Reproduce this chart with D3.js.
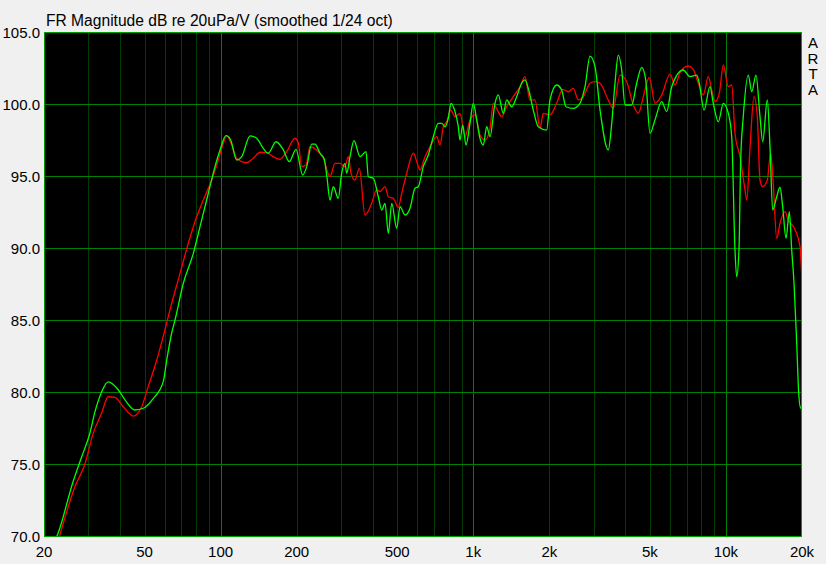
<!DOCTYPE html>
<meta charset="utf-8">
<style>
    body { margin: 0; background: #f0f0f0; }
    text { font-family: "Liberation Sans", Arial, sans-serif; font-size: 15px; fill: #000; }
    .title { font-size: 15.6px; }
    .grid line { shape-rendering: crispEdges; }
    .trace { fill: none; stroke-width: 1.3px; }
</style>
<svg id="chart" width="826" height="564"></svg>
<script src="https://d3js.org/d3.v7.min.js"></script>
<script>

    var greenFreq = [22.0, 22.6, 26.1, 28.2, 30.4, 31.8, 33.8, 35.9, 39.4, 41.9, 45.8, 49.4, 54.2, 59.3, 61.2, 64.0,
        66.0, 71.2, 78.0, 82.9, 89.4, 95.0, 99.5, 105, 109.6, 115.8, 121.2, 130.8, 138.9, 147.5, 154.4, 165.7,
        177.1, 187, 198.8, 211.2, 219.2, 229.4, 236.4, 247.4, 256.6, 263, 271, 279.2, 292.2, 301.4, 310.7,
        315.5, 325.2, 337.2, 356.2, 376.3, 384.2, 402.2, 420.8, 434.2, 447.4, 461.2, 475.7, 497.8, 512.9,
        536.9, 561.9, 588, 606, 634.2, 663.8, 694.8, 727, 750, 772.8, 796.4, 816.4, 846.6, 872.6, 886.2,
        908.2, 936, 970.6, 1000, 1032, 1063, 1096, 1130, 1165, 1219, 1256, 1315, 1356, 1419, 1485, 1555,
        1602, 1651, 1728, 1809, 1952, 2012, 2138, 2238, 2328, 2488, 2644, 2768, 2898, 3033, 3175, 3422,
        3532, 3638, 3750, 3868, 3986, 4236, 4434, 4642, 4814, 5004, 5238, 5568, 5828, 6102, 6778, 7206,
        7660, 7844, 8188, 8648, 8912, 9328, 9764, 10220, 10540, 10860, 11030, 11260, 11440, 11710, 12260,
        12650, 13150, 13640, 13980, 14580, 14940, 15310, 15880, 16370, 16770, 17290, 17820, 18210, 18600,
        19060, 19410, 19760, 20000];
    var greenDb = [69.6, 70.07, 73.8, 75.5, 77.15, 78.6, 80.0, 80.7, 80.14, 79.44, 78.75, 78.87, 79.56, 80.72, 82.22, 84.08,
        85.0, 87.55, 89.63, 91.48, 93.8, 95.65, 96.81, 97.8, 97.5, 96.11, 96.34, 97.78, 97.62, 96.92, 96.58, 97.38,
        96.81, 96.0, 96.85, 95.07, 95.65, 97.22, 97.22, 96.58, 96.23, 95.07, 93.33, 94.26, 93.45, 95.19, 95.88,
        95.19, 96.34, 97.45, 96.34, 96.69, 94.95, 94.84, 93.56, 92.64, 93.1, 91.02, 93.1, 91.37, 92.87,
        92.29, 92.76, 94.15, 94.26, 95.65, 96.46, 97.73, 98.66, 98.66, 98.42, 99.01, 100.05, 99.47, 98.42, 97.5,
        98.54, 97.15, 98.66, 100.05, 98.89, 97.62, 97.15, 98.42, 97.73, 100.05, 100.63, 99.35, 100.28, 99.81, 100.51, 101.44,
        101.67, 101.09, 99.58, 98.42, 98.19, 100.28, 101.32, 100.97, 99.81, 99.7, 100.05, 101.2, 103.33, 102.59, 99.58, 96.81,
        98.66, 101.44, 103.4, 102.36, 99.93, 99.93, 101.44, 102.55, 101.67, 97.97, 98.89, 100.16, 99.47, 101.2, 102.36, 101.9,
        102.01, 101.44, 99.58, 101.2, 100.05, 98.77, 100.05, 99.35, 97.73, 89.86, 88.0, 89.86, 96.11, 99.12, 102.01,
        100.85, 102.01, 99.12, 97.38, 100.28, 97.03, 92.64, 93.56, 94.22, 92.87, 90.67, 92.52, 89.86, 87.55,
        83.38, 79.91, 78.87, 79.24];

    var redFreq = [22.6, 23.1, 26.5, 29.1, 31.3, 33.8, 35.9, 38.2, 41.2, 45.1, 48.7, 51.7, 55.9, 60.2,
        63.0, 69.1, 74.5, 80.4, 85.4, 92.2, 97.9, 102.5, 105.7, 110.7, 115.8, 126.9, 134.7, 143.2, 152.2, 161.6, 171.8,
        182.6, 197, 203, 209.4, 217.8, 225.8, 240, 255, 271, 283.6, 296.8, 310.7, 320.2, 328.2, 340.4, 354,
        372.8, 396.2, 414.6, 427.4, 447.4, 461.2, 482.4, 505, 521, 545.2, 579, 600.4, 615.4, 644.2, 674.2,
        716.6, 738.6, 761, 785, 814, 846.6, 886.2, 927.6, 970.6, 1016, 1063, 1113, 1165, 1200, 1245, 1296,
        1356, 1440, 1531, 1602, 1677, 1755, 1837, 1893, 2012, 2138, 2258, 2377, 2488, 2604, 2726, 2898,
        3033, 3175, 3422, 3582, 3808, 4048, 4298, 4500, 4710, 4974, 5240, 5570, 6006, 6286, 6578, 7096,
        7426, 7772, 8136, 8516, 8784, 9052, 9414, 9764, 10220, 10540, 10860, 11370, 11900, 12090, 12460,
        12910, 13310, 13640, 13980, 14580, 15030, 15390, 15880, 16370, 17130, 17650, 18650, 19640, 19940];
    var redDb = [69.5, 70.07, 73.42, 75.05, 77.13, 78.52, 79.67, 79.63, 78.98, 78.33, 78.98, 80.37, 82.22, 84.31,
        85.69, 88.24, 90.33, 92.17, 93.33, 94.72, 96.11, 97.27, 97.8, 97.15, 96.23, 95.92, 96.23, 96.65, 96.62, 96.34, 96.16,
        96.69, 97.62, 97.27, 95.65, 95.76, 97.03, 96.81, 96.23, 94.95, 95.88, 95.88, 95.65, 96.34, 95.19, 94.72, 95.53,
        92.29, 93.1, 94.03, 93.91, 94.26, 93.56, 93.45, 92.83, 93.8, 95.19, 96.58, 95.88, 95.42, 96.34, 97.03,
        97.73, 97.15, 98.42, 98.77, 99.58, 99.12, 99.35, 97.73, 98.89, 99.24, 97.85, 97.5, 98.31, 100.05, 99.58, 99.12,
        99.81, 100.51, 101.2, 101.9, 100.28, 100.28, 98.31, 99.35, 99.24, 100.05, 101.02, 100.85, 101.09, 100.28, 100.51, 101.44,
        101.55, 101.44, 100.28, 99.7, 102.01, 101.55, 99.93, 99.35, 100.51, 101.85, 100.05, 100.63, 102.08, 101.32, 102.17, 102.64,
        102.41, 101.44, 100.63, 101.9, 100.97, 100.16, 100.74, 102.71, 101.2, 101.32, 97.97, 96.34, 94.03, 93.33, 97.03,
        100.51, 99.12, 94.72, 94.26, 94.72, 96.58, 94.49, 90.67, 91.72, 92.52, 91.94, 91.37, 90.09, 88.24];

    var yTicks = [70, 75, 80, 85, 90, 95, 100, 105];
    var xLabelFreqs = [20, 50, 100, 200, 500, 1000, 2000, 5000, 10000, 20000];
    var xLabels = ["20", "50", "100", "200", "500", "1k", "2k", "5k", "10k", "20k"];
    var title = "FR Magnitude dB re 20uPa/V (smoothed 1/24 oct)";
    var brand = ["A", "R", "T", "A"];

    var svg = d3.select("#chart");
    var plotL = 44, plotR = 802, plotT = 32, plotB = 536;

    var x = d3.scaleLog().domain([20, 20000]).range([plotL, plotR]);
    var y = d3.scaleLinear().domain([70, 105]).range([plotB, plotT]);

    svg.append("rect")
        .attr("x", plotL).attr("y", plotT)
        .attr("width", plotR - plotL).attr("height", plotB - plotT)
        .attr("fill", "#000");

    svg.append("clipPath").attr("id", "plotclip")
        .append("rect")
        .attr("x", plotL).attr("y", plotT)
        .attr("width", plotR - plotL).attr("height", plotB - plotT);

    // vertical grid: every 1..9 x decade, decade lines brighter
    var gridFreqs = [];
    [10, 100, 1000, 10000].forEach(function(dec) {
        for (var m = 1; m < 10; m++) {
            var f = dec * m;
            if (f > 20 && f < 20000) gridFreqs.push(f);
        }
    });

    var grid = svg.append("g").attr("class", "grid");
    grid.selectAll("line.v")
        .data(gridFreqs)
        .enter().append("line")
        .attr("class", "v")
        .attr("x1", function(d) { return Math.round(x(d)) + 0.5; })
        .attr("x2", function(d) { return Math.round(x(d)) + 0.5; })
        .attr("y1", plotT).attr("y2", plotB)
        .attr("stroke", function(d) {
            var l = Math.log10(d);
            return Math.abs(l - Math.round(l)) < 1e-9 ? "#008000" : "#003c00";
        });

    grid.selectAll("line.h")
        .data(yTicks.slice(1, -1))
        .enter().append("line")
        .attr("class", "h")
        .attr("x1", plotL).attr("x2", plotR)
        .attr("y1", function(d) { return Math.round(y(d)) + 0.5; })
        .attr("y2", function(d) { return Math.round(y(d)) + 0.5; })
        .attr("stroke", "#008000");

    var line = d3.line()
        .x(function(d) { return x(d[0]); })
        .y(function(d) { return y(d[1]); })
        .curve(d3.curveMonotoneX);

    var traces = svg.append("g").attr("clip-path", "url(#plotclip)");

    traces.append("path")
        .attr("class", "trace")
        .attr("stroke", "#ff0000")
        .attr("d", line(d3.zip(redFreq, redDb)));

    traces.append("path")
        .attr("class", "trace")
        .attr("stroke", "#00ff00")
        .attr("d", line(d3.zip(greenFreq, greenDb)));

    // frame
    svg.append("rect")
        .attr("x", plotL + 0.5).attr("y", plotT + 0.5)
        .attr("width", plotR - plotL - 1).attr("height", plotB - plotT)
        .attr("fill", "none")
        .attr("stroke", "#00a000")
        .style("shape-rendering", "crispEdges");

    svg.append("g").selectAll("text")
        .data(yTicks)
        .enter().append("text")
        .attr("x", 40)
        .attr("y", function(d) { return y(d) + 5.5; })
        .attr("text-anchor", "end")
        .text(function(d) { return d.toFixed(1); });

    svg.append("g").selectAll("text")
        .data(xLabelFreqs)
        .enter().append("text")
        .attr("x", function(d) { return x(d); })
        .attr("y", 557)
        .attr("text-anchor", "middle")
        .text(function(d, i) { return xLabels[i]; });

    svg.append("text")
        .attr("class", "title")
        .attr("x", 46).attr("y", 26)
        .text(title);

    svg.append("g").selectAll("text")
        .data(brand)
        .enter().append("text")
        .attr("x", 813)
        .attr("y", function(d, i) { return 48 + i * 15.5; })
        .attr("text-anchor", "middle")
        .text(function(d) { return d; });

</script>
